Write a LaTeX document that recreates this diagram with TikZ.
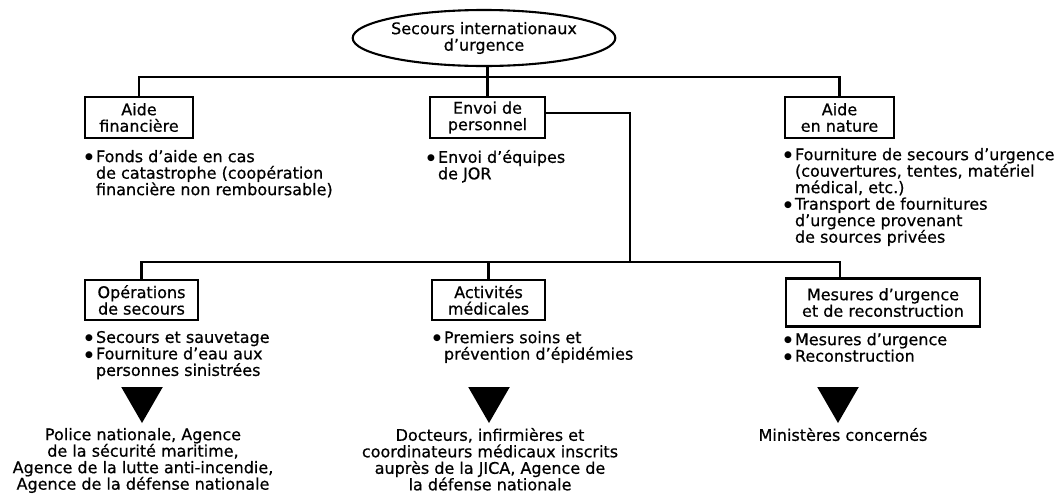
\documentclass[tikz,border=0pt]{standalone}
\usepackage{fontspec}
\setmainfont{DejaVu Sans}
\newfontfamily\heavy[FakeBold=0.6,Ligatures=TeX]{DejaVu Sans}
\newfontfamily\dotfont{DejaVu Sans}
\usetikzlibrary{shapes.geometric}
% bullet and hanging indent for the item lists
\newcommand{\bl}{\makebox[11pt][l]{\raisebox{2.2pt}{\dotfont\fontsize{9}{9}\selectfont ●}}}
\newcommand{\ind}{\hspace*{11pt}}
\begin{document}
\begin{tikzpicture}[x=1pt,y=-1pt,
  every node/.style={font=\heavy\fontsize{16}{16.5}\selectfont, inner sep=0pt, outer sep=0pt},
  link/.style={line width=2.1pt},
  catbox/.style={draw, line width=2.3pt, align=center},
  items/.style={align=left, anchor=north west},
  agents/.style={align=center, anchor=north},
  pointer/.style={regular polygon, regular polygon sides=3, shape border rotate=180,
                  fill=black, minimum size=48pt}]
\fill[white] (0,0) rectangle (1061,496);
\useasboundingbox (0,0) rectangle (1061,496);

% root
\node[draw, ellipse, line width=2.1pt, minimum width=258pt, minimum height=56pt, align=center]
  (root) at (484,38) {Secours internationaux\\d’urgence};

% first level
\node[catbox, minimum width=108pt, minimum height=41pt] (fin)  at (139,117.5)   {Aide\\financière};
\node[catbox, minimum width=115pt, minimum height=41pt] (pers) at (487.5,117.5) {Envoi de\\personnel};
\node[catbox, minimum width=109pt, minimum height=41pt] (nat)  at (839.5,117.5) {Aide\\en nature};

% second level
\node[catbox, minimum width=113pt, minimum height=40pt] (ops) at (141.5,300) {Opérations\\de secours};
\node[catbox, minimum width=113pt, minimum height=40pt] (med) at (488.5,300) {Activités\\médicales};
\node[catbox, minimum width=194pt, minimum height=48pt] (mes) at (883,302.5) {Mesures d’urgence\\et de reconstruction};

% connectors
\coordinate (bar1) at (0,77);
\coordinate (bar2) at (0,262);
\coordinate (mesdrop) at (840,262);
\coordinate (persout) at (630,113);
\coordinate (persdown) at (630,262);

\draw[link] (root.south -| pers.north) -- (pers.north);
\draw[link] (fin.north) -- (fin.north |- bar1) -- (nat.north |- bar1) -- (nat.north);
\draw[link] (pers.east |- persout) -- (persout) -- (persdown);
\draw[link] (ops.north) -- (ops.north |- bar2) -- (mesdrop) -- (mesdrop |- mes.north);
\draw[link] (med.north |- bar2) -- (med.north);

% item lists
\node[items] (finitems)  at (85,150)  {\bl Fonds d’aide en cas\\\ind de catastrophe (coopération\\\ind financière non remboursable)};
\node[items] (persitems) at (427,150) {\bl Envoi d’équipes\\\ind de JOR};
\node[items] (natitems)  at (784,148) {\bl Fourniture de secours d’urgence\\\ind (couvertures, tentes, matériel\\\ind médical, etc.)\\\bl Transport de fournitures\\\ind d’urgence provenant\\\ind de sources privées};
\node[items] (opsitems)  at (85,331)  {\bl Secours et sauvetage\\\bl Fourniture d’eau aux\\\ind personnes sinistrées};
\node[items] (meditems)  at (433,331) {\bl Premiers soins et\\\ind prévention d’épidémies};
\node[items] (mesitems)  at (784,333) {\bl Mesures d’urgence\\\bl Reconstruction};

% pointers to the agencies in charge
\node[pointer] (opsarrow) at (142,399) {};
\node[pointer] (medarrow) at (489,399) {};
\node[pointer] (mesarrow) at (838,399) {};

\node[agents] (opsagents) at (143,428) {Police nationale, Agence\\de la sécurité maritime,\\Agence de la lutte anti-incendie,\\Agence de la défense nationale};
\node[agents] (medagents) at (490,428) {Docteurs, infirmières et\\coordinateurs médicaux inscrits\\auprès de la JICA, Agence de\\la défense nationale};
\node[agents] (mesagents) at (843,428) {Ministères concernés};
\end{tikzpicture}
\end{document}
